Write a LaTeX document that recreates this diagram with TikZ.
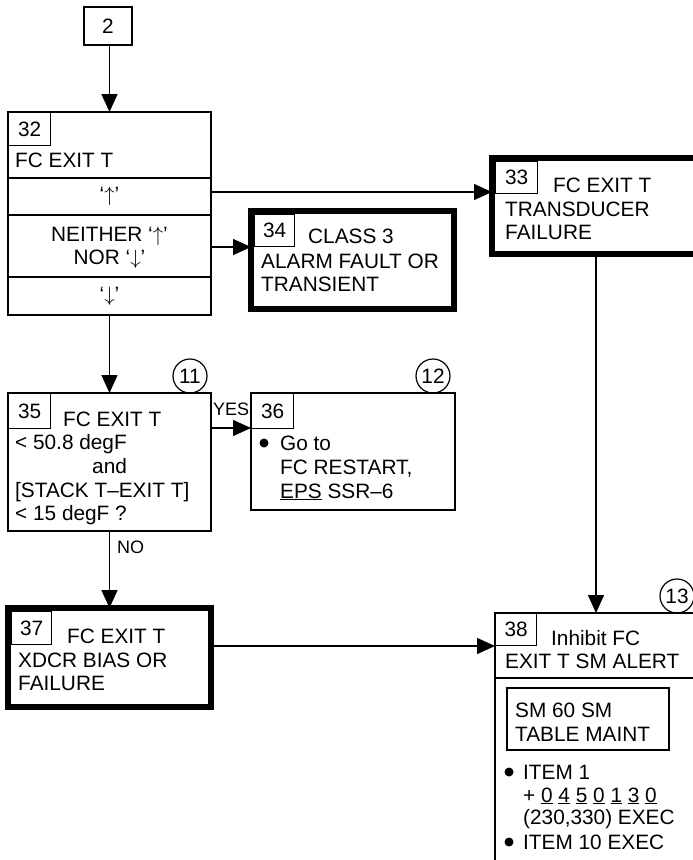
\documentclass[tikz,border=0pt]{standalone}
\usepackage{fontspec}
\setmainfont{Liberation Sans}
\usetikzlibrary{arrows.meta}
\newcommand\upa{\ensuremath{\uparrow}}
\newcommand\dna{\ensuremath{\downarrow}}
\begin{document}
\begin{tikzpicture}[x=1pt,y=-1pt,
  fs/.style={font=\fontsize{20.8}{20}\selectfont},
  box/.style={draw,line width=1.5pt,inner sep=0pt,outer sep=0pt},
  heavy/.style={draw,line width=6pt,inner sep=0pt,outer sep=0pt},
  numbox/.style={draw,line width=1.2pt,inner sep=0pt,anchor=north west,fs},
  txt/.style={anchor=base west,inner sep=0pt,fs},
  btxt/.style={anchor=base,inner sep=0pt,fs},
  ctxt/.style={inner sep=0pt,fs,align=center},
  lbl/.style={anchor=base west,inner sep=0pt,font=\fontsize{18}{18}\selectfont},
  conn/.style={line width=1.5pt,-{Triangle[length=18pt,width=16pt]}},
  plainline/.style={line width=1.5pt},
  refc/.style={draw,circle,line width=1.2pt,minimum size=34pt,inner sep=0pt,fs},
  bul/.style={circle,fill,inner sep=0pt,minimum size=9pt}]
\useasboundingbox (0,0) rectangle (693,860);

% box 2
\node[box,fs,minimum width=48pt,minimum height=38pt] (n2) at (108,26) {2};

% box 32
\node[box,minimum width=203pt,minimum height=203pt] (b32) at (109.5,213.5) {};
\draw[plainline] (b32.west |- 0,178) -- (b32.east |- 0,178);
\draw[plainline] (b32.west |- 0,215) -- (b32.east |- 0,215);
\draw[plainline] (b32.west |- 0,277) -- (b32.east |- 0,277);
\node[numbox,minimum width=42pt,minimum height=33pt] (k32) at (8,112) {32};
\node[txt] (t32a) at (15,167) {FC EXIT T};
\node[ctxt] (t32b) at (109.5,196.5) {‘\upa’};
\node[btxt] (t32c) at (109.5,241) {NEITHER ‘\upa’};
\node[btxt] (t32e) at (109.5,264) {NOR ‘\dna’};
\node[ctxt] (t32d) at (109.5,296) {‘\dna’};

% box 33
\node[heavy,minimum width=218pt,minimum height=96pt] (b33) at (601,206) {};
\node[numbox,minimum width=42pt,minimum height=32pt] (k33) at (495,161) {33};
\node[txt] (t33a) at (553,192) {FC EXIT T};
\node[txt] (t33b) at (505,216) {TRANSDUCER};
\node[txt] (t33c) at (505,239) {FAILURE};

% box 34
\node[heavy,minimum width=203pt,minimum height=98pt] (b34) at (352.5,260) {};
\node[numbox,minimum width=40pt,minimum height=32pt] (k34) at (254,214) {34};
\node[txt] (t34a) at (308,243) {CLASS 3};
\node[txt] (t34b) at (261,268) {ALARM FAULT OR};
\node[txt] (t34c) at (261,291) {TRANSIENT};

% box 35
\node[box,minimum width=203pt,minimum height=138pt] (b35) at (109.5,462) {};
\node[numbox,minimum width=42pt,minimum height=35pt] (k35) at (8,393) {35};
\node[txt] (t35a) at (63,426) {FC EXIT T};
\node[txt] (t35b) at (15,449) {< 50.8 degF};
\node[txt] (t35c) at (92,473) {and};
\node[txt] (t35d) at (15,497) {[STACK T–EXIT T]};
\node[txt] (t35e) at (15,520) {< 15 degF ?};
\node[refc] (r11) at (190,376) {11};

% box 36
\node[box,minimum width=204pt,minimum height=117pt] (b36) at (353,451.5) {};
\node[numbox,minimum width=42pt,minimum height=35pt] (k36) at (251,393) {36};
\node[bul] (d36) at (264,443) {};
\node[txt] (t36a) at (280,450) {Go to};
\node[txt] (t36b) at (280,474) {FC RESTART,};
\node[txt] (t36c) at (280,498) {\underline{EPS} SSR–6};
\node[refc] (r12) at (433,376) {12};

% box 37
\node[heavy,minimum width=203pt,minimum height=99pt] (b37) at (109.5,657.5) {};
\node[numbox,minimum width=40pt,minimum height=33pt] (k37) at (11,611) {37};
\node[txt] (t37a) at (67,643) {FC EXIT T};
\node[txt] (t37b) at (18,667) {XDCR BIAS OR};
\node[txt] (t37c) at (18,690) {FAILURE};

% box 38
\node[box,minimum width=215pt,minimum height=277pt] (b38) at (602.5,751.5) {};
\draw[plainline] (b38.west |- 0,678) -- (b38.east |- 0,678);
\node[numbox,minimum width=41pt,minimum height=32pt] (k38) at (495,613) {38};
\node[txt] (t38a) at (551,645) {Inhibit FC};
\node[txt] (t38b) at (505,668) {EXIT T SM ALERT};
\node[box,minimum width=162pt,minimum height=62pt] (s38) at (588,719) {};
\node[txt] (t38c) at (515,717) {SM 60 SM};
\node[txt] (t38d) at (515,741) {TABLE MAINT};
\node[bul] (d38a) at (509,772) {};
\node[txt] (t38e) at (523,779) {ITEM 1};
\node[txt] (t38f) at (523,802) {+ \underline{0} \underline{4} \underline{5} \underline{0} \underline{1} \underline{3} \underline{0}};
\node[txt] (t38g) at (523,824) {(230,330) EXEC};
\node[bul] (d38b) at (509,842) {};
\node[txt] (t38h) at (523,849) {ITEM 10 EXEC};
\node[refc] (r13) at (677,596) {13};

% connectors
\draw[conn] (n2.south -| 109.5,0) -- (b32.north);
\draw[conn] (b32.east |- 0,192) -- (b33.west |- 0,192);
\draw[conn] (b32.east |- 0,247) -- (b34.west |- 0,247);
\draw[conn] (b32.south) -- (b35.north);
\draw[conn] (b35.east |- 0,428) -- (b36.west |- 0,428);
\node[lbl] (yes) at (213,415) {YES};
\draw[conn] (b35.south) -- (b37.north);
\node[lbl] (no) at (117,553) {NO};
\draw[conn] (b33.south -| 596,0) -- (b38.north -| 596,0);
\draw[conn] (b37.east |- 0,646) -- (b38.west |- 0,646);
\end{tikzpicture}
\end{document}
